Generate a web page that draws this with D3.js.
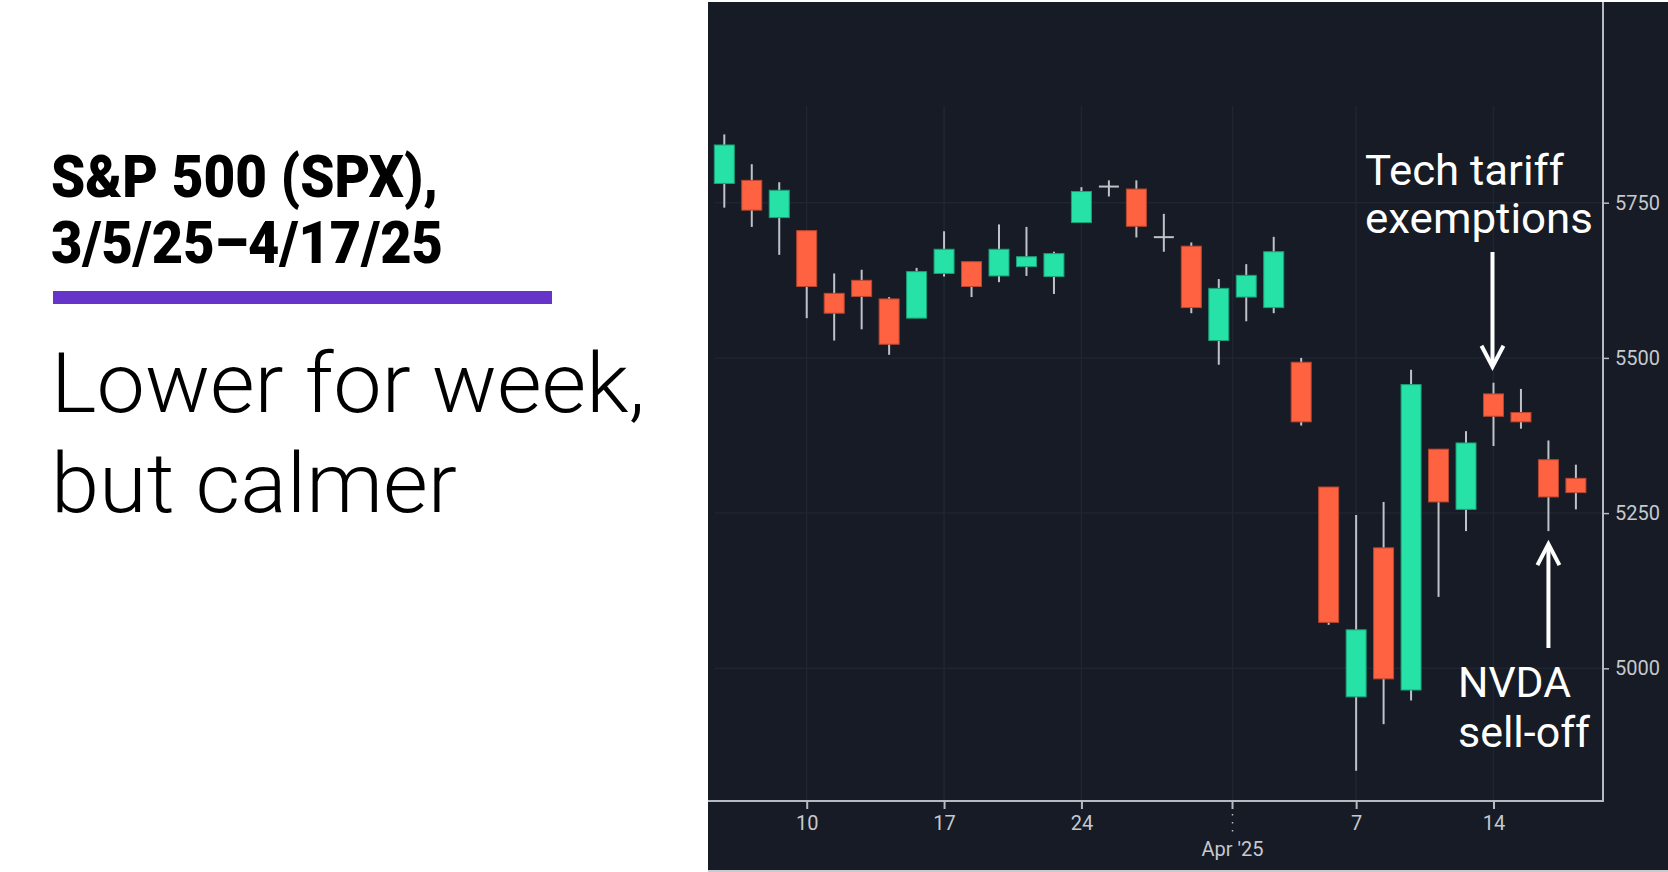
<!DOCTYPE html>
<html>
<head>
<meta charset="utf-8">
<script src="https://cdn.jsdelivr.net/npm/d3@7"></script>
<style>
  html, body { margin: 0; padding: 0; background: #ffffff; }
  svg { display: block; }
</style>
</head>
<body>
<svg id="chart" width="1668" height="872"></svg>
<script>
// ---- Data (S&P 500 daily OHLC) ----
const dates = ["2025-03-05","2025-03-06","2025-03-07","2025-03-10","2025-03-11","2025-03-12","2025-03-13","2025-03-14",
  "2025-03-17","2025-03-18","2025-03-19","2025-03-20","2025-03-21","2025-03-24","2025-03-25","2025-03-26","2025-03-27",
  "2025-03-28","2025-03-31","2025-04-01","2025-04-02","2025-04-03","2025-04-04","2025-04-07","2025-04-08","2025-04-09",
  "2025-04-10","2025-04-11","2025-04-14","2025-04-15","2025-04-16","2025-04-17"];
const openV  = [5781,5786,5726,5705,5604,5625,5595,5564,5636,5655,5632,5647,5631,5718,5776,5772,5696,5680,5528,5598,5581,5493,5292,4954,5194,4965,5353,5256,5442,5412,5336,5306];
const highV  = [5860,5812,5783,5705,5636,5642,5598,5645,5704,5655,5715,5711,5671,5775,5786,5786,5732,5686,5627,5651,5695,5500,5292,5247,5268,5481,5353,5382,5460,5450,5367,5328];
const lowV   = [5742,5711,5666,5564,5528,5546,5505,5564,5631,5598,5622,5632,5603,5718,5760,5694,5671,5572,5489,5559,5572,5391,5070,4835,4910,4948,5115,5221,5358,5386,5221,5256];
const closeV = [5843,5738,5770,5615,5572,5599,5522,5639,5675,5615,5675,5663,5668,5768,5776,5712,5693,5581,5612,5633,5671,5397,5074,5062,4983,5457,5268,5363,5406,5397,5276,5283];

const yTicks = [5000, 5250, 5500, 5750];
const xTickDates = ["2025-03-10","2025-03-17","2025-03-24","2025-04-07","2025-04-14"];
const xTickLabels = ["10","17","24","7","14"];
const monthLabel = "Apr '25";
const monthStartDate = "2025-04-01";

const titleLines = ["S&P 500 (SPX),", "3/5/25\u20134/17/25"];
const subtitleLines = ["Lower for week,", "but calmer"];
const noteTech = ["Tech tariff", "exemptions"];
const noteTechDate = "2025-04-14";
const noteNvda = ["NVDA", "sell-off"];
const noteNvdaDate = "2025-04-16";

// ---- Layout ----
const svg = d3.select("#chart");
const panel = {x0: 708, y0: 2, x1: 1668, y1: 871};
const plot = {left: 708, right: 1603, top: 2, bottom: 801, gridTop: 106, gridLeft: 715};

const x = d3.scaleLinear().domain([0, dates.length - 1]).range([724.3, 1575.9]);
const y = d3.scaleLinear().domain([5000, 5750]).range([668.3, 202.7]);

const COLORS = {
  bg: "#161b25", grid: "#1f2631", axis: "#b7bac0", label: "#c6c9ce",
  up: "#26e2a6", upStroke: "#1a9f78", down: "#ff6240", downStroke: "#b9472f",
  wick: "#bfc2c8", white: "#ffffff"
};

// ---- Left text block ----
const left = svg.append("g");
const titleLen = [387, 392];
left.selectAll("text.title").data(titleLines).join("text")
  .attr("class", "title")
  .attr("x", 51).attr("y", (d, i) => 197 + i * 66)
  .attr("font-family", "Roboto, 'Liberation Sans', sans-serif")
  .attr("font-weight", 900).attr("font-size", 60)
  .attr("textLength", (d, i) => titleLen[i]).attr("lengthAdjust", "spacingAndGlyphs")
  .attr("fill", "#000").text(d => d);

left.append("rect").attr("x", 53).attr("y", 291).attr("width", 499).attr("height", 13).attr("fill", "#6634c8");

const subLen = [594, 406];
left.selectAll("text.sub").data(subtitleLines).join("text")
  .attr("class", "sub")
  .attr("x", 51).attr("y", (d, i) => 412 + i * 100)
  .attr("font-family", "Roboto, 'Liberation Sans', sans-serif")
  .attr("font-weight", 300).attr("font-size", 84)
  .attr("textLength", (d, i) => subLen[i]).attr("lengthAdjust", "spacingAndGlyphs")
  .attr("fill", "#000").text(d => d);

// ---- Chart panel ----
svg.append("rect").attr("x", panel.x0).attr("y", panel.y0)
  .attr("width", panel.x1 - panel.x0).attr("height", panel.y1 - panel.y0).attr("fill", COLORS.bg);

const idxOf = d => dates.indexOf(d);
const tickIdx = xTickDates.map(idxOf);
const monthIdx = idxOf(monthStartDate) - 0.5;

// grid
const grid = svg.append("g");
grid.selectAll("line.h").data(yTicks).join("line").attr("class", "h")
  .attr("x1", plot.gridLeft).attr("x2", plot.right)
  .attr("y1", d => y(d)).attr("y2", d => y(d))
  .attr("stroke", COLORS.grid).attr("stroke-width", 1.5);
grid.selectAll("line.v").data(tickIdx.concat([monthIdx])).join("line").attr("class", "v")
  .attr("x1", d => x(d)).attr("x2", d => x(d))
  .attr("y1", plot.gridTop).attr("y2", plot.bottom)
  .attr("stroke", COLORS.grid).attr("stroke-width", 1.5);

// candles
const data = dates.map((d, i) => ({i, o: openV[i], h: highV[i], l: lowV[i], c: closeV[i]}));
const bodyW = 20;
const candles = svg.append("g");
candles.selectAll("line.wick").data(data).join("line").attr("class", "wick")
  .attr("x1", d => x(d.i)).attr("x2", d => x(d.i))
  .attr("y1", d => y(d.h)).attr("y2", d => y(d.l))
  .attr("stroke", COLORS.wick).attr("stroke-width", 2);
const isDoji = d => Math.abs(d.o - d.c) < 4;
candles.selectAll("rect.body").data(data.filter(d => !isDoji(d))).join("rect").attr("class", "body")
  .attr("x", d => x(d.i) - bodyW / 2)
  .attr("y", d => y(Math.max(d.o, d.c)))
  .attr("width", bodyW)
  .attr("height", d => Math.abs(y(d.o) - y(d.c)))
  .attr("fill", d => d.c >= d.o ? COLORS.up : COLORS.down)
  .attr("stroke", d => d.c >= d.o ? COLORS.upStroke : COLORS.downStroke)
  .attr("stroke-width", 1);
candles.selectAll("line.doji").data(data.filter(isDoji)).join("line").attr("class", "doji")
  .attr("x1", d => x(d.i) - bodyW / 2).attr("x2", d => x(d.i) + bodyW / 2)
  .attr("y1", d => y((d.o + d.c) / 2)).attr("y2", d => y((d.o + d.c) / 2))
  .attr("stroke", COLORS.wick).attr("stroke-width", 2);

// axes
const yAxis = d3.axisRight(y).tickValues(yTicks).tickSize(6).tickPadding(6).tickFormat(d3.format("d"));
const gy = svg.append("g").attr("transform", `translate(${plot.right},0)`).call(yAxis);
gy.select(".domain").remove();
gy.selectAll(".tick line").attr("stroke", COLORS.axis).attr("stroke-width", 1.5);
gy.selectAll(".tick text").attr("fill", COLORS.label).attr("font-size", 20)
  .attr("font-family", "Roboto, sans-serif");

const xAxis = d3.axisBottom(x).tickValues(tickIdx).tickSize(8).tickPadding(7)
  .tickFormat((d, i) => xTickLabels[i]);
const gx = svg.append("g").attr("transform", `translate(0,${plot.bottom})`).call(xAxis);
gx.select(".domain").remove();
gx.selectAll(".tick line").attr("stroke", COLORS.axis).attr("stroke-width", 2);
gx.selectAll(".tick text").attr("fill", COLORS.label).attr("font-size", 20)
  .attr("font-family", "Roboto, sans-serif");

// axis lines
svg.append("line").attr("x1", plot.left).attr("x2", plot.right + 1)
  .attr("y1", plot.bottom).attr("y2", plot.bottom).attr("stroke", COLORS.axis).attr("stroke-width", 2);
svg.append("line").attr("x1", plot.right).attr("x2", plot.right)
  .attr("y1", plot.top).attr("y2", plot.bottom + 1).attr("stroke", COLORS.axis).attr("stroke-width", 2);

// month boundary tick (dotted) and label
const mx = x(monthIdx);
svg.append("line").attr("x1", mx).attr("x2", mx).attr("y1", plot.bottom).attr("y2", plot.bottom + 8)
  .attr("stroke", COLORS.axis).attr("stroke-width", 2);
svg.append("line").attr("x1", mx).attr("x2", mx).attr("y1", plot.bottom + 13).attr("y2", plot.bottom + 36)
  .attr("stroke", COLORS.axis).attr("stroke-width", 1.5).attr("stroke-dasharray", "1.5,6.5");
svg.append("text").attr("x", mx).attr("y", 856).attr("text-anchor", "middle")
  .attr("fill", COLORS.label).attr("font-size", 20).attr("font-family", "Roboto, sans-serif")
  .text(monthLabel);

// bottom edge
svg.append("rect").attr("x", panel.x0).attr("y", 870).attr("width", panel.x1 - panel.x0).attr("height", 2).attr("fill", "#c9cbcf");

// ---- Annotations ----
const ann = svg.append("g").attr("font-family", "Roboto, sans-serif").attr("font-size", 43).attr("fill", COLORS.white);
const techLen = [199, 228];
ann.selectAll("text.tech").data(noteTech).join("text").attr("class", "tech")
  .attr("x", 1365).attr("y", (d, i) => 185 + i * 48)
  .attr("textLength", (d, i) => techLen[i]).attr("lengthAdjust", "spacingAndGlyphs").text(d => d);
const nvdaLen = [113, 132];
ann.selectAll("text.nvda").data(noteNvda).join("text").attr("class", "nvda")
  .attr("x", 1458).attr("y", (d, i) => 697 + i * 50)
  .attr("textLength", (d, i) => nvdaLen[i]).attr("lengthAdjust", "spacingAndGlyphs").text(d => d);

function arrow(xc, yFrom, yTip) {
  const dir = yTip > yFrom ? 1 : -1;
  const g = svg.append("g").attr("stroke", COLORS.white).attr("stroke-width", 4).attr("fill", "none")
    .attr("stroke-linecap", "butt");
  g.append("line").attr("x1", xc).attr("x2", xc).attr("y1", yFrom).attr("y2", yTip - dir * 2);
  g.append("path").attr("d", `M${xc - 11},${yTip - dir * 21} L${xc},${yTip} L${xc + 11},${yTip - dir * 21}`)
    .attr("stroke-linejoin", "miter");
}
const techI = idxOf(noteTechDate), nvdaI = idxOf(noteNvdaDate);
arrow(x(techI) - 1, 252, y(highV[techI]) - 16);
arrow(x(nvdaI), 648, y(lowV[nvdaI]) + 13);
</script>
</body>
</html>
